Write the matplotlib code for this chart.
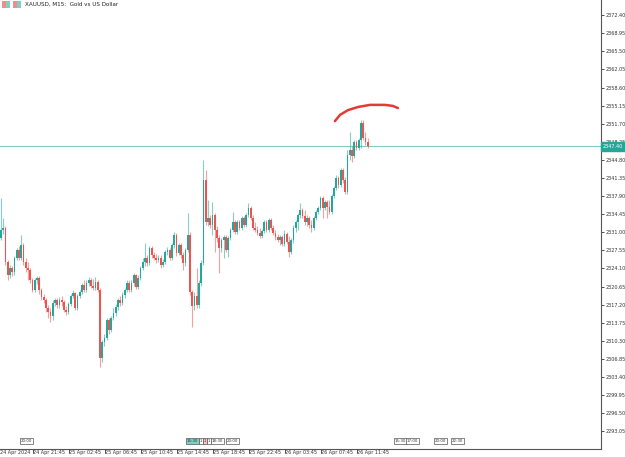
import numpy as np
import matplotlib.pyplot as plt
from matplotlib import font_manager
from matplotlib.patches import Rectangle
from matplotlib.transforms import ScaledTranslation

# XAUUSD M15 candles, left to right
opens = [2329.9, 2331.4, 2331.8, 2325.3, 2322.9, 2324.2, 2323.4, 2326.1, 2327.6, 2326.1,
         2328.6, 2325.3, 2324.2, 2323.8, 2321.9, 2320.0, 2321.9, 2322.3, 2320.0, 2318.7,
         2318.1, 2316.6, 2315.8, 2315.0, 2317.5, 2318.1, 2317.1, 2318.1, 2317.7, 2316.2,
         2315.8, 2317.3, 2318.9, 2319.4, 2316.6, 2318.9, 2319.6, 2320.9, 2320.0, 2321.3,
         2321.9, 2320.8, 2320.4, 2321.5, 2320.0, 2307.0, 2310.1, 2310.8, 2314.3, 2312.4,
         2314.7, 2315.6, 2316.8, 2318.1, 2317.5, 2319.0, 2320.0, 2321.3, 2320.0, 2321.3,
         2322.9, 2320.6, 2322.3, 2324.2, 2325.3, 2326.1, 2325.1, 2328.0, 2326.7, 2326.1,
         2325.7, 2326.1, 2324.8, 2325.3, 2327.2, 2327.6, 2326.1, 2328.6, 2330.5, 2327.1,
         2328.6, 2326.7, 2325.1, 2327.6, 2330.5, 2319.6, 2316.9, 2318.9, 2317.1, 2321.3,
         2325.1, 2341.0, 2332.9, 2333.7, 2332.4, 2334.3, 2331.4, 2329.9, 2328.0, 2329.5,
         2330.1, 2327.6, 2329.9, 2331.4, 2332.9, 2331.1, 2332.9, 2331.8, 2333.7, 2332.4,
         2334.3, 2335.6, 2333.7, 2331.8, 2331.4, 2330.9, 2330.3, 2331.2, 2332.9, 2331.4,
         2333.3, 2331.8, 2330.9, 2330.1, 2329.5, 2330.1, 2328.8, 2330.7, 2329.1, 2327.2,
         2329.5, 2331.8, 2332.9, 2334.3, 2335.3, 2334.1, 2332.9, 2333.7, 2332.4, 2331.8,
         2333.7, 2334.9, 2335.6, 2337.5, 2335.6, 2336.8, 2335.8, 2334.9, 2337.9, 2339.4,
         2341.4, 2340.0, 2342.9, 2341.0, 2338.7, 2345.7, 2346.7, 2345.5, 2348.2, 2347.1,
         2348.6, 2351.8, 2349.0, 2348.2]
highs = [2337.5, 2333.7, 2332.2, 2325.7, 2324.8, 2324.6, 2326.5, 2328.0, 2328.4, 2330.5,
         2328.9, 2326.1, 2325.3, 2324.2, 2322.3, 2322.3, 2322.7, 2322.7, 2320.4, 2319.2,
         2318.5, 2317.1, 2316.6, 2318.1, 2318.5, 2318.5, 2318.7, 2318.9, 2318.1, 2316.9,
         2317.7, 2319.2, 2320.0, 2319.6, 2319.2, 2320.0, 2321.3, 2321.9, 2321.9, 2322.5,
         2322.3, 2322.1, 2322.5, 2321.9, 2320.4, 2310.5, 2311.6, 2314.7, 2314.7, 2315.0,
         2316.6, 2317.3, 2318.5, 2318.9, 2319.6, 2320.4, 2321.9, 2321.9, 2321.9, 2323.2,
         2323.0, 2322.9, 2324.6, 2326.1, 2328.9, 2326.7, 2328.4, 2328.4, 2327.2, 2326.9,
         2326.7, 2326.7, 2325.9, 2327.6, 2328.2, 2328.0, 2328.9, 2331.1, 2330.9, 2328.9,
         2328.9, 2327.2, 2328.0, 2334.7, 2331.1, 2320.0, 2319.6, 2324.2, 2321.9, 2325.7,
         2344.8, 2342.9, 2337.2, 2334.3, 2336.8, 2334.7, 2332.2, 2330.5, 2329.9, 2330.5,
         2330.5, 2330.3, 2331.8, 2334.9, 2333.3, 2333.3, 2333.3, 2334.1, 2334.1, 2334.7,
         2336.6, 2336.0, 2334.3, 2332.9, 2332.2, 2331.8, 2331.6, 2333.3, 2333.3, 2333.7,
         2333.7, 2332.4, 2331.4, 2330.7, 2330.5, 2330.5, 2331.4, 2331.1, 2330.3, 2329.9,
         2332.4, 2333.3, 2334.7, 2336.6, 2335.6, 2335.3, 2334.3, 2334.1, 2333.3, 2334.1,
         2335.3, 2336.0, 2337.9, 2337.9, 2337.2, 2337.2, 2337.2, 2338.3, 2339.8, 2341.9,
         2341.7, 2343.3, 2343.3, 2341.5, 2346.7, 2350.1, 2347.5, 2348.6, 2348.6, 2349.0,
         2352.4, 2352.4, 2350.1, 2349.0]
lows = [2329.5, 2330.7, 2324.8, 2321.9, 2322.3, 2322.7, 2322.9, 2325.7, 2325.7, 2325.7,
        2324.8, 2323.4, 2321.9, 2321.3, 2319.6, 2319.6, 2321.1, 2319.2, 2318.1, 2317.5,
        2315.8, 2314.7, 2313.9, 2314.3, 2316.9, 2316.6, 2316.6, 2316.9, 2315.8, 2315.2,
        2315.4, 2316.9, 2318.5, 2316.2, 2316.2, 2318.5, 2319.2, 2319.6, 2319.6, 2320.8,
        2320.4, 2320.0, 2320.0, 2319.6, 2305.3, 2306.3, 2309.3, 2310.5, 2311.6, 2312.0,
        2314.3, 2315.0, 2316.2, 2316.9, 2317.1, 2318.5, 2319.6, 2319.6, 2319.6, 2320.8,
        2320.2, 2320.2, 2321.9, 2323.8, 2324.6, 2324.6, 2324.8, 2326.1, 2325.7, 2325.1,
        2325.3, 2324.2, 2324.4, 2325.0, 2326.7, 2325.7, 2325.7, 2328.0, 2326.5, 2326.7,
        2326.1, 2323.8, 2324.6, 2327.2, 2319.0, 2312.9, 2316.2, 2316.6, 2316.6, 2320.8,
        2324.8, 2332.4, 2332.2, 2331.8, 2330.5, 2327.2, 2329.1, 2323.2, 2327.2, 2326.1,
        2327.2, 2326.3, 2329.5, 2331.1, 2330.7, 2330.7, 2331.4, 2331.4, 2332.0, 2332.0,
        2333.9, 2333.3, 2331.4, 2331.1, 2330.5, 2329.9, 2329.9, 2330.9, 2331.1, 2331.1,
        2331.4, 2330.5, 2329.5, 2329.1, 2328.6, 2328.4, 2328.4, 2328.8, 2326.3, 2326.9,
        2328.9, 2331.1, 2331.4, 2333.7, 2333.7, 2332.4, 2332.2, 2331.8, 2331.1, 2331.4,
        2333.3, 2334.5, 2335.3, 2333.7, 2335.3, 2333.7, 2334.5, 2334.5, 2337.5, 2339.1,
        2339.4, 2339.6, 2340.4, 2338.3, 2338.3, 2344.8, 2344.4, 2345.2, 2346.7, 2346.7,
        2347.1, 2348.6, 2347.6, 2347.1]
closes = [2331.4, 2331.8, 2325.3, 2322.9, 2324.2, 2323.4, 2326.1, 2327.6, 2326.1, 2328.6,
          2325.3, 2324.2, 2323.8, 2321.9, 2320.0, 2321.9, 2322.3, 2320.0, 2318.7, 2318.1,
          2316.6, 2315.8, 2315.0, 2317.5, 2318.1, 2317.1, 2318.1, 2317.7, 2316.2, 2315.8,
          2317.3, 2318.9, 2319.4, 2316.6, 2318.9, 2319.6, 2320.9, 2320.0, 2321.3, 2321.9,
          2320.8, 2320.4, 2321.5, 2320.0, 2307.0, 2310.1, 2310.8, 2314.3, 2312.4, 2314.7,
          2315.6, 2316.8, 2318.1, 2317.5, 2319.0, 2320.0, 2321.3, 2320.0, 2321.3, 2322.9,
          2320.6, 2322.3, 2324.2, 2325.3, 2326.1, 2325.1, 2328.0, 2326.7, 2326.1, 2325.7,
          2326.1, 2324.8, 2325.3, 2327.2, 2327.6, 2326.1, 2328.6, 2330.5, 2327.1, 2328.6,
          2326.7, 2325.1, 2327.6, 2330.5, 2319.6, 2316.9, 2318.9, 2317.1, 2321.3, 2325.1,
          2341.0, 2332.9, 2333.7, 2332.4, 2334.3, 2331.4, 2329.9, 2328.0, 2329.5, 2330.1,
          2327.6, 2329.9, 2331.4, 2332.9, 2331.1, 2332.9, 2331.8, 2333.7, 2332.4, 2334.3,
          2335.6, 2333.7, 2331.8, 2331.4, 2330.9, 2330.3, 2331.2, 2332.9, 2331.4, 2333.3,
          2331.8, 2330.9, 2330.1, 2329.5, 2330.1, 2328.8, 2330.7, 2329.1, 2327.2, 2329.5,
          2331.8, 2332.9, 2334.3, 2335.3, 2334.1, 2332.9, 2333.7, 2332.4, 2331.8, 2333.7,
          2334.9, 2335.6, 2337.5, 2335.6, 2336.8, 2335.8, 2334.9, 2337.9, 2339.4, 2341.4,
          2340.0, 2342.9, 2341.0, 2338.7, 2345.7, 2346.7, 2345.5, 2348.2, 2347.1, 2348.6,
          2351.8, 2349.0, 2348.2, 2347.4]

price_ticks = [2293.05, 2296.50, 2299.95, 2303.40, 2306.85, 2310.30, 2313.75, 2317.20,
               2320.65, 2324.10, 2327.55, 2331.00, 2334.45, 2337.90, 2341.35, 2344.80,
               2348.25, 2351.70, 2355.15, 2358.60, 2362.05, 2365.50, 2368.95, 2372.40]
time_labels = ["24 Apr 21:45", "25 Apr 02:45", "25 Apr 06:45", "25 Apr 10:45", "25 Apr 14:45",
               "25 Apr 18:45", "25 Apr 22:45", "26 Apr 03:45", "26 Apr 07:45", "26 Apr 11:45"]
time_ticks = [14.4, 30.4, 46.4, 62.4, 78.4, 94.4, 110.4, 126.4, 142.4, 158.4]

# calendar event markers along the bottom (label, bar position)
event_labels = ["20:00", "15:30", "1", "1", "1", "18:30", "20:00", "15:30", "17:00", "20:00", "22:30"]
event_pos = [8.9, 82.7, 88.4, 90.2, 92.0, 93.8, 100.4, 175.1, 180.4, 192.9, 200.4]
event_fill = ["white", "#7fcfc5", "white", "#f8c6c6", "white", "white", "white",
              "white", "white", "white", "white"]

# hand-drawn arc above the last high (bar, price)
arc_x = [148.4, 150.7, 154.2, 158.7, 164.0, 170.7, 174.2, 176.4]
arc_y = [2352.2, 2353.4, 2354.3, 2354.9, 2355.3, 2355.3, 2355.1, 2354.7]

UP = '#26a69a'
DOWN = '#ef5350'

# narrow font for the tiny terminal-style labels, if there is one
names = {f.name for f in font_manager.fontManager.ttflist}
if 'Liberation Sans Narrow' in names:
    small = dict(family='Liberation Sans Narrow', size=4.3)
else:
    small = dict(family='DejaVu Sans', size=3.5)

fig = plt.figure(figsize=(6.25, 4.57), dpi=100)
ax = fig.add_axes([0, 8 / 457, 601 / 625, 449 / 457])

o = np.array(opens)
h = np.array(highs)
l = np.array(lows)
c = np.array(closes)
x = np.arange(len(c))
colors = np.where(c >= o, UP, DOWN)

ax.vlines(x, l, h, colors=colors, linewidth=0.8, alpha=0.55, zorder=2)
body_lo = np.minimum(o, c)
body_h = np.maximum(np.abs(c - o), 0.2)
ax.bar(x, body_h, bottom=body_lo, width=0.75, color=colors, linewidth=0, zorder=3)

# last price line + label
last = closes[-1]
ax.axhline(last, color='#80cbc4', linewidth=0.8, zorder=1)
ax.text(1.003, last, f"{last:.2f}", transform=ax.get_yaxis_transform(), ha='left', va='center',
        fontfamily=small['family'], fontsize=small['size'], color='white', zorder=10,
        clip_on=False, bbox=dict(boxstyle='square,pad=0.35', fc='#26a69a', ec='#26a69a'))

ax.plot(arc_x, arc_y, color='#e53935', linewidth=1.8, solid_capstyle='round', zorder=5)

ax.set_xlim(-0.44, 266.67)
ax.set_ylim(2289.68, 2375.3)

ax.yaxis.tick_right()
ax.set_yticks(price_ticks)
ax.set_yticklabels([f"{p:.2f}" for p in price_ticks])
ax.set_xticks(time_ticks)
ax.set_xticklabels(time_labels, ha='left')
shift = ScaledTranslation(1.5 / 100, 0, fig.dpi_scale_trans)
for t in ax.get_xticklabels():
    t.set_transform(t.get_transform() + shift)
for t in ax.get_xticklabels() + ax.get_yticklabels():
    t.set_fontfamily(small['family'])
    t.set_fontsize(small['size'])
ax.tick_params(axis='both', colors='#333333', width=0.6)
ax.tick_params(axis='y', length=2.5, pad=1)
ax.tick_params(axis='x', length=3, pad=-2.6)

for s in ['top', 'left']:
    ax.spines[s].set_visible(False)
for s in ['right', 'bottom']:
    ax.spines[s].set_color('#555555')
    ax.spines[s].set_linewidth(0.8)

ax.text(0.0, -0.003, "24 Apr 2024", transform=ax.transAxes, ha='left', va='top',
        fontfamily=small['family'], fontsize=small['size'], color='#333333', clip_on=False)

# header with symbol icons
ax.add_patch(Rectangle((0.004, 0.982), 0.012, 0.015, transform=ax.transAxes,
                       fc='#f28b8b', ec='none', clip_on=False))
ax.add_patch(Rectangle((0.010, 0.982), 0.006, 0.015, transform=ax.transAxes,
                       fc='#7fcfc5', ec='none', clip_on=False))
ax.add_patch(Rectangle((0.022, 0.982), 0.013, 0.015, transform=ax.transAxes,
                       fc='#f28b8b', ec='none', clip_on=False))
ax.add_patch(Rectangle((0.028, 0.982), 0.007, 0.015, transform=ax.transAxes,
                       fc='#7fcfc5', ec='none', clip_on=False))
ax.text(0.042, 0.99, "XAUUSD, M15:  Gold vs US Dollar", transform=ax.transAxes,
        ha='left', va='center', fontfamily=small['family'], fontsize=small['size'] + 0.6,
        color='#222222')

for lab, px, fc in zip(event_labels, event_pos, event_fill):
    ax.text(px, 0.018, lab, transform=ax.get_xaxis_transform(), ha='left', va='center',
            fontfamily=small['family'], fontsize=small['size'] - 0.6, color='#333333', zorder=6,
            bbox=dict(boxstyle='square,pad=0.2', fc=fc, ec='#555555', lw=0.5))

fig.savefig('out.png', dpi=100)
